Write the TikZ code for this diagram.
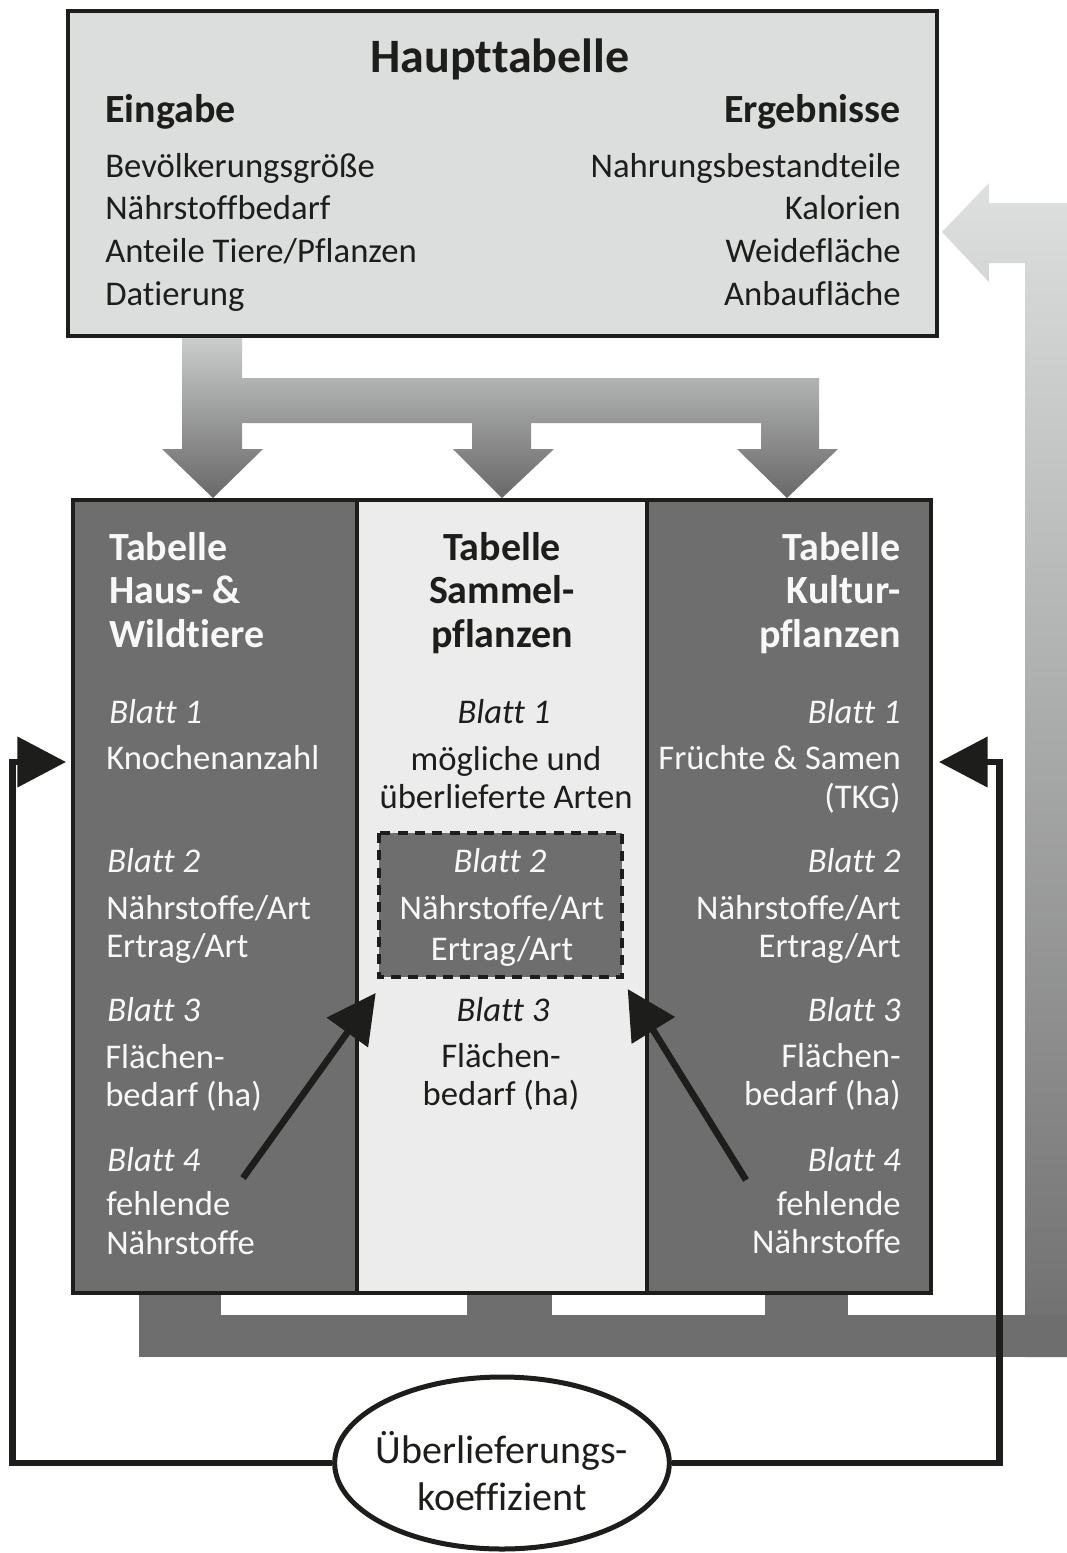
\documentclass[tikz,border=0pt]{standalone}
\usepackage{fontspec}
\setmainfont{Carlito}[Ligatures=NoCommon]
\usetikzlibrary{arrows.meta,shapes.geometric}
\definecolor{topfill}{RGB}{220,221,221}
\definecolor{darkcol}{RGB}{110,110,110}
\definecolor{midfill}{RGB}{236,236,236}
\definecolor{ink}{RGB}{29,29,27}
\definecolor{paper}{RGB}{248,248,248}
\definecolor{gtop}{RGB}{204,205,205}
\definecolor{gbot}{RGB}{104,104,104}
\definecolor{rtop}{RGB}{222,223,223}
\begin{document}
\begin{tikzpicture}[x=0.75pt,y=-0.75pt,
  txt/.style={inner sep=0pt, font=\fontsize{26}{30}\selectfont},
  blatt/.style={inner sep=0pt, font=\fontsize{26}{30}\selectfont\itshape},
  head/.style={inner sep=0pt, font=\fontsize{30}{34}\selectfont\bfseries},
  title/.style={inner sep=0pt, font=\fontsize{36}{40}\selectfont\bfseries},
  wt/.style={text=paper},
  bt/.style={text=ink},
  conn/.style={draw=ink, line width=5pt, -{Triangle[length=36.5pt,width=37pt]}},
  border/.style={draw=ink, line width=3pt}]
\useasboundingbox (0,0) rectangle (1067,1553);

% gradient distribution arrows
\shade[top color=gtop, bottom color=gbot]
  (182,336) -- (182,449) -- (162,449) -- (213,498) -- (263,449) -- (242,449)
  -- (242,423) -- (472,423) -- (472,449) -- (453,449) -- (502,498) -- (554,449)
  -- (531,449) -- (531,423) -- (761,423) -- (761,449) -- (737,449) -- (787,498)
  -- (838,449) -- (819,449) -- (819,378) -- (242,378) -- (242,336) -- cycle;

% return arrow (right, vertical gradient)
\shade[top color=rtop, bottom color=darkcol]
  (1025,1357) -- (1025,263) -- (989,263) -- (989,282) -- (942,232) -- (989,183)
  -- (989,203) -- (1067,203) -- (1067,1357) -- cycle;
% bottom band and stubs
\fill[darkcol] (139,1315) rectangle (1067,1357);
\fill[darkcol] (139,1288) rectangle (221,1316);
\fill[darkcol] (467,1288) rectangle (552,1316);
\fill[darkcol] (765,1288) rectangle (848,1316);

% top box
\node[border, fill=topfill, minimum width=651.75pt, minimum height=243.75pt, inner sep=0pt] (haupt) at (502.5,173.5) {};
\node[title, bt, anchor=base] (ht) at (500,72) {Haupttabelle};
\node[head, bt, anchor=base west] (ein) at (105,122) {Eingabe};
\node[head, bt, anchor=base east] (erg) at (901,122) {Ergebnisse};
\node[txt, bt, anchor=base west] (e1) at (105,177) {Bevölkerungsgröße};
\node[txt, bt, anchor=base west] (e2) at (105,219.5) {Nährstoffbedarf};
\node[txt, bt, anchor=base west] (e3) at (105,262) {Anteile Tiere/Pflanzen};
\node[txt, bt, anchor=base west] (e4) at (105,305) {Datierung};
\node[txt, bt, anchor=base east] (r1) at (901,177) {Nahrungsbestandteile};
\node[txt, bt, anchor=base east] (r2) at (901,219.5) {Kalorien};
\node[txt, bt, anchor=base east] (r3) at (901,262) {Weidefläche};
\node[txt, bt, anchor=base east] (r4) at (901,305) {Anbaufläche};

% tables
\fill[darkcol] (73,500) rectangle (357,1293);
\fill[midfill] (357,500) rectangle (647,1293);
\fill[darkcol] (647,500) rectangle (931,1293);
\draw[border] (73,500) rectangle (931,1293);
\draw[border] (357,500) -- (357,1293);
\draw[border] (647,500) -- (647,1293);

% dashed box
\draw[fill=darkcol, draw=ink, line width=3pt, dash pattern=on 7.5pt off 5.5pt] (379,833) rectangle (622,977);

% left column
\node[head, wt, anchor=base west] (a1) at (109,560) {Tabelle};
\node[head, wt, anchor=base west] (a2) at (109,603) {Haus- \&};
\node[head, wt, anchor=base west] (a3) at (109,647) {Wildtiere};
\node[blatt, wt, anchor=base west] (a4) at (109,723) {Blatt 1};
\node[txt, wt, anchor=base west] (a5) at (106,769) {Knochenanzahl};
\node[blatt, wt, anchor=base west] (a6) at (107,872) {Blatt 2};
\node[txt, wt, anchor=base west] (a7) at (106,919) {Nährstoffe/Art};
\node[txt, wt, anchor=base west] (a8) at (106,957) {Ertrag/Art};
\node[blatt, wt, anchor=base west] (a9) at (107,1021) {Blatt 3};
\node[txt, wt, anchor=base west] (a10) at (105,1068) {Flächen-};
\node[txt, wt, anchor=base west] (a11) at (105,1106) {bedarf (ha)};
\node[blatt, wt, anchor=base west] (a12) at (107,1171) {Blatt 4};
\node[txt, wt, anchor=base west] (a13) at (106,1215) {fehlende};
\node[txt, wt, anchor=base west] (a14) at (106,1254) {Nährstoffe};

% middle column
\node[head, bt, anchor=base] (m1) at (502,560) {Tabelle};
\node[head, bt, anchor=base] (m2) at (502,603) {Sammel-};
\node[head, bt, anchor=base] (m3) at (502,647) {pflanzen};
\node[blatt, bt, anchor=base] (m4) at (504,723) {Blatt 1};
\node[txt, bt, anchor=base] (m5) at (506,770) {mögliche und};
\node[txt, bt, anchor=base] (m6) at (506,808) {überlieferte Arten};
\node[blatt, wt, anchor=base] (m7) at (500,872) {Blatt 2};
\node[txt, wt, anchor=base] (m8) at (502,919) {Nährstoffe/Art};
\node[txt, wt, anchor=base] (m9) at (502,960) {Ertrag/Art};
\node[blatt, bt, anchor=base] (m10) at (503,1021) {Blatt 3};
\node[txt, bt, anchor=base] (m11) at (501,1067) {Flächen-};
\node[txt, bt, anchor=base] (m12) at (501,1105) {bedarf (ha)};

% right column
\node[head, wt, anchor=base east] (k1) at (901,560) {Tabelle};
\node[head, wt, anchor=base east] (k2) at (901,603) {Kultur-};
\node[head, wt, anchor=base east] (k3) at (901,647) {pflanzen};
\node[blatt, wt, anchor=base east] (k4) at (901,723) {Blatt 1};
\node[txt, wt, anchor=base east] (k5) at (901,769) {Früchte \& Samen};
\node[txt, wt, anchor=base east] (k6) at (901,808) {(TKG)};
\node[blatt, wt, anchor=base east] (k7) at (901,872) {Blatt 2};
\node[txt, wt, anchor=base east] (k8) at (901,919) {Nährstoffe/Art};
\node[txt, wt, anchor=base east] (k9) at (901,957) {Ertrag/Art};
\node[blatt, wt, anchor=base east] (k10) at (901,1021) {Blatt 3};
\node[txt, wt, anchor=base east] (k11) at (901,1067) {Flächen-};
\node[txt, wt, anchor=base east] (k12) at (901,1105) {bedarf (ha)};
\node[blatt, wt, anchor=base east] (k13) at (901,1171) {Blatt 4};
\node[txt, wt, anchor=base east] (k14) at (901,1215) {fehlende};
\node[txt, wt, anchor=base east] (k15) at (901,1253) {Nährstoffe};

% ellipse
\node[ellipse, draw=ink, fill=white, line width=3.75pt, minimum width=251pt, minimum height=129pt, inner sep=0pt] (ell) at (502,1463) {};
\node[inner sep=0pt, align=center, text=ink, font=\fontsize{30}{35}\selectfont] (elltxt) at (502,1471) {Überlieferungs-\\koeffizient};

% connectors
\coordinate (lin) at (66,762);
\coordinate (rin) at (939,762);
\draw[conn] (ell.west) -| (12.5,762) -- (lin);
\draw[conn] (ell.east) -| (999.5,762) -- (rin);

\coordinate (la0) at (243,1178);
\coordinate (la1) at (375.7,993);
\coordinate (ra0) at (746,1180);
\coordinate (ra1) at (627.7,989);
\draw[conn] (la0) -- (la1);
\draw[conn] (ra0) -- (ra1);
\end{tikzpicture}
\end{document}
